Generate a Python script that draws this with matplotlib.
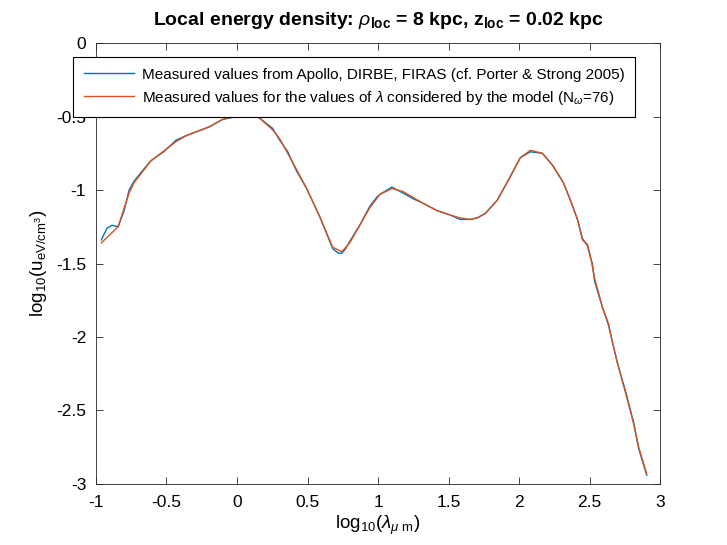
import numpy as np
import matplotlib
matplotlib.use('Agg')
import matplotlib.pyplot as plt
from matplotlib.ticker import FuncFormatter

plt.rcParams['font.family'] = ['Liberation Sans', 'DejaVu Sans']
plt.rcParams['mathtext.fontset'] = 'custom'
plt.rcParams['mathtext.rm'] = 'Liberation Sans'
plt.rcParams['mathtext.it'] = 'Liberation Sans:italic'
plt.rcParams['mathtext.bf'] = 'Liberation Sans:bold'

# model wavelengths (log10 lambda in micron) and energy density
lam_model = [-0.962, -0.843, -0.765, -0.730, -0.609, -0.431, -0.360, -0.196, -0.104,
             0.067, 0.110, 0.159, 0.252, 0.302, 0.422, 0.494, 0.586, 0.679, 0.743,
             0.799, 0.942, 1.013, 1.098, 1.176, 1.319, 1.418, 1.511, 1.582, 1.653,
             1.703, 1.760, 1.845, 1.937, 2.009, 2.080, 2.165, 2.236, 2.314, 2.364,
             2.414, 2.449, 2.485, 2.506, 2.535, 2.592, 2.634, 2.663, 2.698, 2.755,
             2.812, 2.848, 2.905]
u_model = [-1.36, -1.25, -1.02, -0.95, -0.80, -0.67, -0.63, -0.57, -0.52,
           -0.48, -0.48, -0.51, -0.59, -0.65, -0.86, -0.99, -1.18, -1.39, -1.42,
           -1.36, -1.12, -1.03, -0.99, -1.01, -1.09, -1.14, -1.17, -1.19, -1.20,
           -1.19, -1.16, -1.07, -0.91, -0.78, -0.73, -0.75, -0.83, -0.95, -1.07,
           -1.20, -1.34, -1.37, -1.45, -1.60, -1.80, -1.91, -2.04, -2.18, -2.38,
           -2.59, -2.75, -2.93]

# measured (Porter & Strong 2005)
lam_meas = [-0.962, -0.922, -0.886, -0.843, -0.800, -0.765, -0.730, -0.680, -0.609,
            -0.520, -0.431, -0.360, -0.280, -0.196, -0.104, 0.000, 0.067, 0.110,
            0.159, 0.252, 0.302, 0.360, 0.422, 0.494, 0.586, 0.679, 0.720, 0.743,
            0.770, 0.799, 0.870, 0.942, 0.990, 1.013, 1.098, 1.176, 1.250, 1.319,
            1.418, 1.511, 1.582, 1.653, 1.703, 1.760, 1.845, 1.937, 2.009, 2.080,
            2.165, 2.236, 2.314, 2.364, 2.414, 2.449, 2.485, 2.506, 2.520, 2.535,
            2.560, 2.592, 2.634, 2.663, 2.698, 2.755, 2.812, 2.848, 2.905]
u_meas = [-1.34, -1.26, -1.24, -1.25, -1.14, -1.00, -0.94, -0.88, -0.80,
          -0.74, -0.66, -0.63, -0.60, -0.57, -0.52, -0.50, -0.48, -0.48,
          -0.51, -0.58, -0.66, -0.74, -0.87, -0.99, -1.18, -1.40, -1.43, -1.43,
          -1.40, -1.35, -1.24, -1.11, -1.05, -1.03, -0.98, -1.02, -1.06, -1.09,
          -1.14, -1.17, -1.20, -1.20, -1.19, -1.16, -1.07, -0.91, -0.78, -0.74,
          -0.75, -0.83, -0.95, -1.07, -1.20, -1.33, -1.38, -1.46, -1.50, -1.62,
          -1.70, -1.80, -1.92, -2.04, -2.18, -2.37, -2.58, -2.76, -2.94]

fig = plt.figure(figsize=(7.27, 5.45), dpi=100)
ax = fig.add_axes([0.132, 0.112, 0.776, 0.809])

ax.plot(lam_meas, u_meas, color='#0072BD', lw=1.0,
        label='Measured values from Apollo, DIRBE, FIRAS (cf. Porter & Strong 2005)')
ax.plot(lam_model, u_model, color='#D95319', lw=1.0,
        label=r'Measured values for the values of $\lambda$ considered by the model (N$_{\omega}$=76)')

ax.set_xlim(-1, 3)
ax.set_ylim(-3, 0)
ax.set_xticks(np.arange(-1, 3.01, 0.5))
ax.set_yticks(np.arange(-3, 0.01, 0.5))
fmt = FuncFormatter(lambda v, p: ('%g' % v) if abs(v) > 1e-9 else '0')
ax.xaxis.set_major_formatter(fmt)
ax.yaxis.set_major_formatter(fmt)
ax.tick_params(direction='in', length=5, width=0.6, top=True, right=True,
               labelsize=12.5, color='#262626', labelcolor='black')
ax.tick_params(axis='x', pad=8)
ax.tick_params(axis='y', pad=7)
for s in ax.spines.values():
    s.set_linewidth(0.6)
    s.set_color('#262626')

ax.set_xlabel(r'log$_{10}$($\lambda_{\mu\ \mathrm{m}}$)', fontsize=13.5, labelpad=3)
ax.set_ylabel(r'log$_{10}$(u$_{\mathrm{eV/cm}^3}$)', fontsize=13.5, labelpad=5)
ax.set_title(r'Local energy density: $\rho_{\mathbf{loc}}$ = 8 kpc, z$_{\mathbf{loc}}$ = 0.02 kpc',
             fontsize=14, fontweight='bold', pad=13)

leg = ax.legend(loc='upper left', bbox_to_anchor=(73/727, 1 - 57/545),
                bbox_transform=fig.transFigure, borderaxespad=0, fontsize=11,
                fancybox=False, framealpha=1, edgecolor='black',
                handlelength=3.3, handletextpad=0.5, labelspacing=0.45,
                borderpad=0.7)
leg.get_frame().set_linewidth(0.8)

fig.savefig('out.png', dpi=100)
